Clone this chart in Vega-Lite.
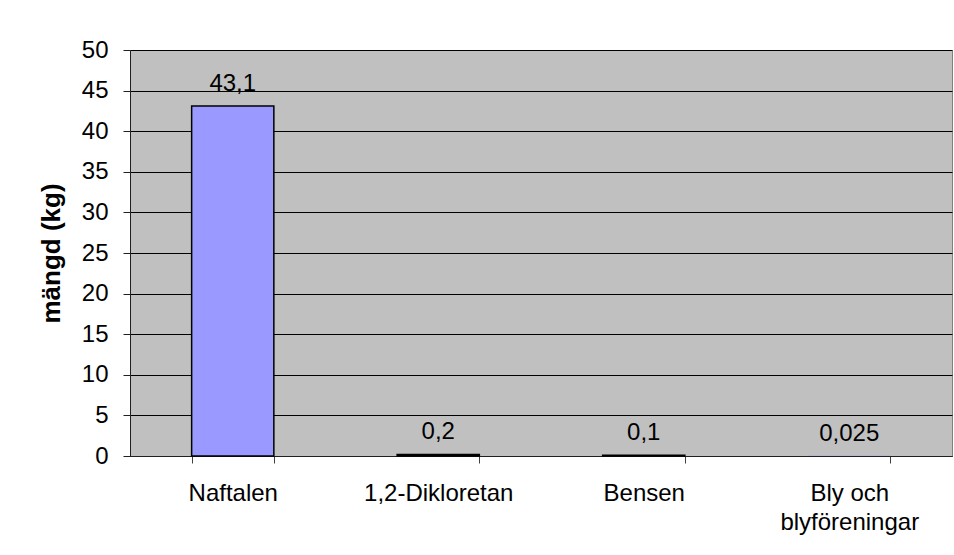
{
  "$schema": "https://vega.github.io/schema/vega-lite/v6.json",
  "autosize": {"type": "none"},
  "padding": {"left": 130, "top": 50, "right": 2, "bottom": 99},
  "width": 822,
  "height": 406,
  "background": "white",
  "config": {
    "font": "Liberation Sans",
    "locale": {"number": {"decimal": ",", "thousands": " ", "grouping": [3], "currency": ["", " kr"]}},
    "view": {"fill": "#C0C0C0", "stroke": "#808080", "strokeWidth": 1}
  },
  "data": {
    "values": [
      {"amne": "Naftalen", "v": 43.1},
      {"amne": "1,2-Dikloretan", "v": 0.2},
      {"amne": "Bensen", "v": 0.1},
      {"amne": "Bly och blyföreningar", "v": 0.025}
    ]
  },
  "encoding": {
    "x": {
      "field": "amne", "type": "nominal", "sort": null,
      "scale": {"paddingInner": 0.6, "paddingOuter": 0.3},
      "axis": {
        "title": null, "labelAngle": 0, "labelFontSize": 24, "labelColor": "black",
        "labelPadding": 18, "tickSize": 7, "tickColor": "#404040", "domainColor": "#202020",
        "tickBand": "extent", "labelLimit": 300, "labelLineHeight": 29,
        "labelExpr": "datum.label == 'Bly och blyföreningar' ? ['Bly och', 'blyföreningar'] : datum.label"
      }
    },
    "y": {
      "field": "v", "type": "quantitative",
      "scale": {"domain": [0, 50]},
      "axis": {
        "title": "mängd (kg)", "titleFontSize": 26, "titleFontWeight": "bold", "titleColor": "black",
        "titlePadding": 17,
        "values": [0, 5, 10, 15, 20, 25, 30, 35, 40, 45, 50],
        "labelFontSize": 24, "labelColor": "black", "labelPadding": 15,
        "tickSize": 7, "tickColor": "#202020", "domainColor": "#202020",
        "grid": true, "gridColor": "black", "gridWidth": 1
      }
    }
  },
  "layer": [
    {
      "mark": {"type": "bar", "fill": "#9999FF", "stroke": "black", "strokeWidth": 1.5},
      "encoding": {
        "strokeOpacity": {"condition": {"test": "datum.v < 0.05", "value": 0}, "value": 1}
      }
    },
    {
      "mark": {"type": "text", "fontSize": 24, "color": "black", "baseline": "alphabetic", "dy": -15},
      "encoding": {
        "text": {"field": "v", "type": "quantitative", "format": ".4~g"}
      }
    }
  ]
}
